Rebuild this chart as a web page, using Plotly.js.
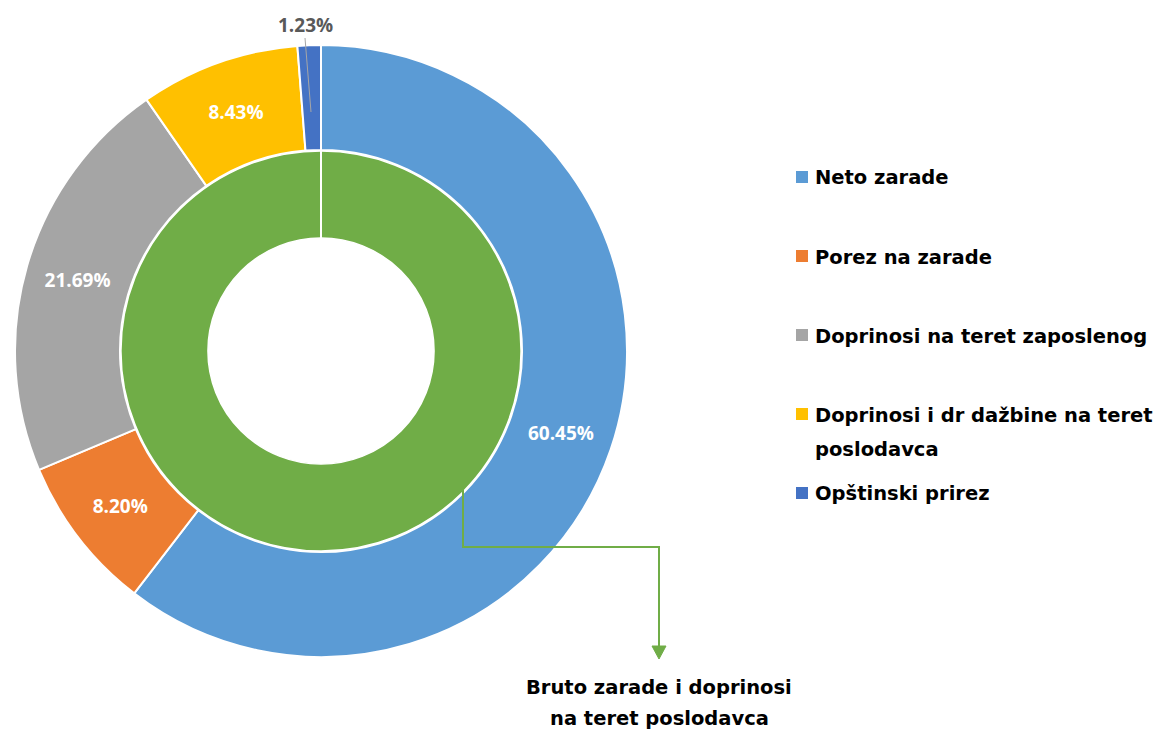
<!DOCTYPE html>
<html><head><meta charset="utf-8">
<script src="https://cdn.plot.ly/plotly-3.0.1.min.js"></script>
<style>html,body{margin:0;padding:0;background:#fff}#chart{width:1158px;height:729px}</style>
</head><body><div id="chart"></div>
<script>
// ---- data ----
const categories = ["Neto zarade", "Porez na zarade", "Doprinosi na teret zaposlenog", "Doprinosi i dr dažbine na teret<br>poslodavca", "Opštinski prirez"];
const shares = [60.45, 8.20, 21.69, 8.43, 1.23];
const sliceColors = ["#5B9BD5", "#ED7D31", "#A5A5A5", "#FFC000", "#4472C4"];
const innerLabels = ["Bruto zarade i doprinosi<br>na teret poslodavca"];
const innerShares = [100];
const innerColors = ["#70AD47"];

// ---- geometry (pixels) ----
const W = 1158, H = 729;
const px = x => x / W, py = y => 1 - y / H;
const cx = 321, cy = 351, rOut = 306, rMid = 200, rIn = 113;
const FONT = "'Open Sans', Lato, sans-serif";
const TFONT = "'DejaVu Sans', 'Open Sans', sans-serif";
const fmt = v => v.toFixed(2) + "%";

const smallIdx = shares.findIndex(v => v < 3);

const outer = {
  type: "pie", values: shares, labels: categories, sort: false,
  direction: "clockwise", rotation: 0, hole: (rMid + 1) / rOut,
  domain: {x: [px(cx - rOut), px(cx + rOut)], y: [py(cy + rOut), py(cy - rOut)]},
  marker: {colors: sliceColors, line: {color: "#ffffff", width: 2}},
  text: shares.map(fmt),
  texttemplate: "%{text}",
  textposition: shares.map(v => v < 3 ? "none" : "inside"),
  insidetextorientation: "horizontal",
  insidetextfont: {family: FONT, size: 19, color: "#ffffff", weight: "bold"},
  hoverinfo: "none", showlegend: false
};
const inner = {
  type: "pie", values: innerShares, labels: innerLabels, sort: false,
  direction: "clockwise", rotation: 0, hole: rIn / rMid,
  domain: {x: [px(cx - rMid), px(cx + rMid)], y: [py(cy + rMid), py(cy - rMid)]},
  marker: {colors: innerColors, line: {color: "#ffffff", width: 1.5}},
  textinfo: "none", hoverinfo: "none", showlegend: false
};

const shapes = [], annotations = [];
// seam at start of the single inner slice
shapes.push({type: "line", xref: "paper", yref: "paper", x0: px(cx), x1: px(cx), y0: py(cy - rMid), y1: py(cy - rIn), line: {color: "#ffffff", width: 2}});
// small slice: label outside with leader line
shapes.push({type: "line", xref: "paper", yref: "paper", x0: px(305), y0: py(38), x1: px(311), y1: py(112), line: {color: "#A6A6A6", width: 1}});
annotations.push({xref: "paper", yref: "paper", x: px(305), y: py(25), xanchor: "center", yanchor: "middle", showarrow: false,
  text: fmt(shares[smallIdx]), font: {family: FONT, size: 19, color: "#595959", weight: "bold"}});

// custom legend
const legX = 796, legY0 = 177, legStep = 79, legLine = 34;
categories.forEach((c, i) => {
  const y = legY0 + legStep * i;
  shapes.push({type: "rect", xref: "paper", yref: "paper", x0: px(legX), x1: px(legX + 12), y0: py(y + 6), y1: py(y - 6), fillcolor: sliceColors[i], line: {width: 0}});
  c.split("<br>").forEach((t, k) => {
    annotations.push({xref: "paper", yref: "paper", x: px(legX + 17), y: py(y + 1 + legLine * k), xanchor: "left", yanchor: "middle", showarrow: false, text: "<b>" + t + "</b>", font: {family: TFONT, size: 19.5, color: "#000000"}});
  });
});

// connector from inner ring to its label
const g = innerColors[0];
shapes.push({type: "path", xref: "paper", yref: "paper", path: `M ${px(463)},${py(490)} L ${px(463)},${py(547)} L ${px(659)},${py(547)} L ${px(659)},${py(647)}`, line: {color: g, width: 2}});
shapes.push({type: "path", xref: "paper", yref: "paper", path: `M ${px(652)},${py(646)} L ${px(666)},${py(646)} L ${px(659)},${py(659)} Z`, fillcolor: g, line: {color: g, width: 1}});
innerLabels[0].split("<br>").forEach((t, k) => {
  annotations.push({xref: "paper", yref: "paper", x: px(659), y: py(687 + 31 * k), xanchor: "center", yanchor: "middle", showarrow: false, text: "<b>" + t + "</b>", font: {family: TFONT, size: 19.5, color: "#000000"}});
});

const layout = {
  width: W, height: H, margin: {l: 0, r: 0, t: 0, b: 0},
  paper_bgcolor: "#ffffff", plot_bgcolor: "#ffffff",
  showlegend: false, shapes: shapes, annotations: annotations
};
Plotly.newPlot("chart", [outer, inner], layout, {displayModeBar: false, staticPlot: true});
</script></body></html>
